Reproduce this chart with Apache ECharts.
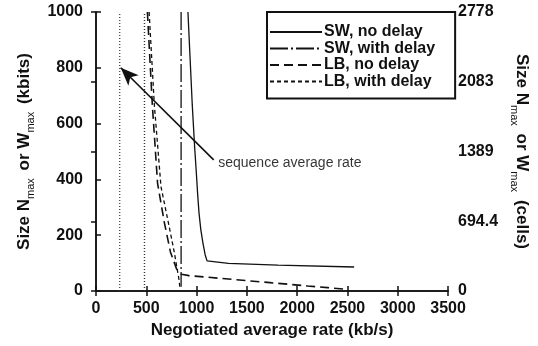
<!DOCTYPE html>
<html>
<head>
<meta charset="utf-8">
<script src="https://cdn.jsdelivr.net/npm/echarts@6/dist/echarts.min.js"></script>
<style>
html, body { margin: 0; padding: 0; background: #fff; }
#chart { width: 538px; height: 346px; }
</style>
</head>
<body>
<div id="chart"></div>
<script>
// x in kb/s, y in kbits
const swNoDelay = [[914, 1000], [936, 830], [957, 667], [980, 520], [998, 420], [1010, 350], [1024, 280], [1042, 220], [1064, 170], [1085, 130], [1104, 108], [1317, 99], [1809, 93], [2566, 86]]
const swWithDelay = [[846, 1000], [846, 15]]
const lbNoDelay = [[511, 1000], [560, 667], [612, 386], [678, 248], [740, 140], [800, 80], [850, 60], [924, 55], [1347, 42], [1730, 30], [1917, 24], [2104, 18], [2301, 12], [2497, 6]]
const lbWithDelay = [[528, 1000], [580, 667], [646, 374], [728, 230], [777, 141], [826, 39], [836, 5]]
// sequence average rate lines
const seqRateA = [[236, 0], [236, 1000]]
const seqRateB = [[482, 0], [482, 1000]]
// arrow from note to rate line
const arrowFrom = [1170, 470]
const arrowTo = [246, 800]
const notePos = [1215, 459]
const noteText = 'sequence average rate'

const rightLabels = ['0', '694.4', '1389', '2083', '2778']
const legendNames = ['SW, no delay', 'SW, with delay', 'LB, no delay', 'LB, with delay']

const font = 'Liberation Sans, Arial, sans-serif'
const ink = '#111'

var myChart = echarts.init(document.getElementById('chart'))

const nameRich = {
	a: { fontSize: 17, fontWeight: 'bold', color: ink, fontFamily: font, verticalAlign: 'top', lineHeight: 21 },
	s: { fontSize: 11, color: ink, fontFamily: font, verticalAlign: 'bottom', lineHeight: 21 }
}
const tickText = { fontSize: 16, fontWeight: 'bold', color: ink, fontFamily: font }

var option = {
	animation: false,
	backgroundColor: '#fff',
	grid: { left: 96, right: 86, top: 12, bottom: 55 },
	legend: {
		data: legendNames,
		orient: 'vertical',
		left: 267,
		top: 12,
		itemWidth: 52,
		itemHeight: 10,
		itemGap: 0.5,
		padding: [12, 20, 9, 2],
		backgroundColor: '#fff',
		borderColor: ink,
		borderWidth: 2,
		borderRadius: 0,
		itemStyle: { opacity: 0 },
		textStyle: { fontSize: 16, fontWeight: 'bold', color: ink, fontFamily: font, padding: [0, 0, 0, -3] }
	},
	xAxis: [{
		type: 'value',
		min: 0,
		max: 3500,
		interval: 500,
		name: 'Negotiated average rate (kb/s)',
		nameLocation: 'middle',
		nameGap: 27,
		nameTextStyle: { fontSize: 17, fontWeight: 'bold', color: ink, fontFamily: font },
		axisLine: { lineStyle: { color: ink, width: 1.5 } },
		axisTick: { inside: true, length: 5, lineStyle: { color: ink, width: 1.5 } },
		axisLabel: Object.assign({ margin: 10, formatter: (v) => String(v) }, tickText),
		splitLine: { show: false }
	}, {
		type: 'value',
		position: 'top',
		min: 0,
		max: 3500,
		interval: 500,
		axisLine: { show: true, lineStyle: { color: ink, width: 1.5 } },
		axisTick: { inside: true, length: 5, lineStyle: { color: ink, width: 1.5 } },
		axisLabel: { show: false },
		splitLine: { show: false }
	}],
	yAxis: [{
		type: 'value',
		min: 0,
		max: 1000,
		interval: 200,
		name: '{a|Size N}{s|max }{a| or W}{s|max }{a| (kbits)}',
		nameLocation: 'middle',
		nameGap: 54,
		nameTextStyle: { rich: nameRich },
		axisLine: { lineStyle: { color: ink, width: 1.5 } },
		axisTick: { inside: true, length: 5, lineStyle: { color: ink, width: 1.5 } },
		axisLabel: Object.assign({ margin: 13, formatter: (v) => String(v) }, tickText),
		splitLine: { show: false }
	}, {
		type: 'value',
		position: 'right',
		min: 0,
		max: 1000,
		interval: 250,
		name: '{a|Size N}{s|max }{a| or W}{s|max }{a| (cells)}',
		nameLocation: 'middle',
		nameRotate: -90,
		nameGap: 57,
		nameTextStyle: { rich: nameRich },
		axisLine: { show: true, lineStyle: { color: ink, width: 1.5 } },
		axisTick: { inside: true, length: 5, lineStyle: { color: ink, width: 1.5 } },
		axisLabel: Object.assign({ margin: 10, formatter: (v, i) => rightLabels[i] }, tickText),
		splitLine: { show: false }
	}],
	series: [{
		name: 'SW, no delay',
		type: 'line',
		data: swNoDelay,
		symbol: 'none',
		lineStyle: { color: ink, width: 1.3, type: 'solid' },
		itemStyle: { color: ink }
	}, {
		name: 'SW, with delay',
		type: 'line',
		data: swWithDelay,
		symbol: 'none',
		lineStyle: { color: ink, width: 1.3, type: [18, 3, 2, 3] },
		itemStyle: { color: ink }
	}, {
		name: 'LB, no delay',
		type: 'line',
		data: lbNoDelay,
		symbol: 'none',
		lineStyle: { color: ink, width: 1.6, type: [9, 5] },
		itemStyle: { color: ink }
	}, {
		name: 'LB, with delay',
		type: 'line',
		data: lbWithDelay,
		symbol: 'none',
		lineStyle: { color: ink, width: 1.3, type: [4, 3] },
		itemStyle: { color: ink }
	}, {
		name: 'rateA',
		type: 'line',
		data: seqRateA,
		symbol: 'none',
		lineStyle: { color: '#333', width: 1.2, type: [1, 2] }
	}, {
		name: 'rateB',
		type: 'line',
		data: seqRateB,
		symbol: 'none',
		lineStyle: { color: '#333', width: 1.4, type: [1, 2] },
		markLine: {
			silent: true,
			symbol: ['none', 'arrow'],
			symbolSize: [11, 18],
			lineStyle: { color: ink, width: 1.6, type: 'solid' },
			label: { show: false },
			data: [[{ coord: arrowFrom }, { coord: arrowTo }]]
		}
	}, {
		name: 'note',
		type: 'scatter',
		data: [notePos],
		symbolSize: 0,
		label: {
			show: true,
			position: 'right',
			distance: 0,
			formatter: noteText,
			fontSize: 14,
			color: '#000',
			fontFamily: font
		}
	}]
}
myChart.setOption(option)
</script>
</body>
</html>
